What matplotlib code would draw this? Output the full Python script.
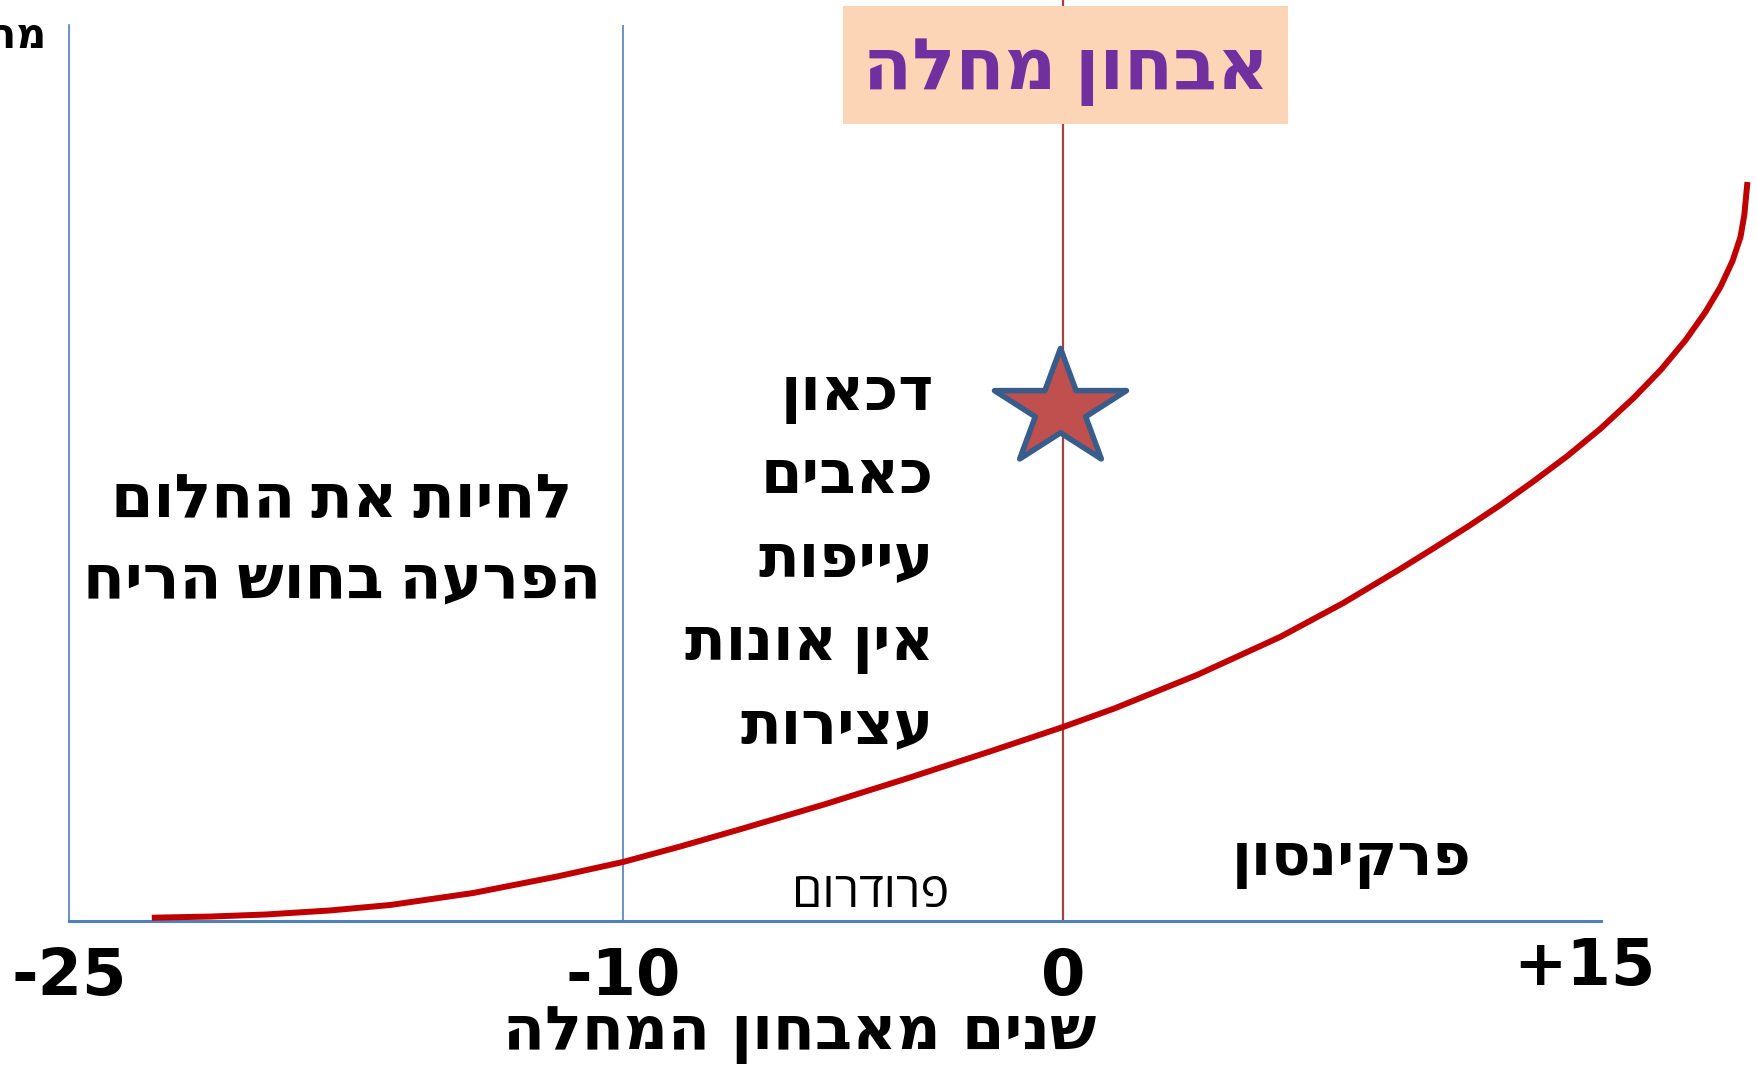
import numpy as np
import matplotlib
matplotlib.use("Agg")
import matplotlib.pyplot as plt
from matplotlib.patches import Rectangle
from matplotlib.path import Path
from matplotlib.transforms import ScaledTranslation

plt.rcParams['font.family'] = ['Open Sans', 'DejaVu Sans']

# ---------------- data ----------------
tick_years = [-25, -10, 0, 15]
tick_labels = ["-25", "-10", "0", "+15"]

curve_years = [-22.77, -21.19, -19.68, -17.94, -16.31, -14.06, -11.81, -10.0, -8.70, -7.32,
               -5.43, -3.55, -1.66, 0.0, 1.48, 3.86, 6.25, 8.07, 9.71, 10.66,
               11.64, 12.59, 13.54, 14.52, 15.48, 16.43, 17.21, 17.93, 18.50, 18.93,
               19.28, 19.51, 19.62, 19.71]
curve_values = [0.31, 0.44, 0.67, 1.12, 1.73, 3.07, 4.89, 6.53, 8.26, 10.21,
                12.95, 15.85, 18.87, 21.60, 23.67, 27.41, 31.65, 35.44, 39.24, 41.53,
                43.93, 46.38, 49.01, 51.85, 54.92, 58.33, 61.45, 64.80, 67.93, 70.72,
                73.62, 76.30, 78.76, 82.44]

star_year = -0.07
star_value = 57.1

title_box = "אבחון מחלה"
left_lines = ["לחיות את החלום", "הפרעה בחוש הריח"]
mid_lines = ["דכאון", "כאבים", "עייפות", "אין אונות", "עצירות"]
prodrome = "פרודרום"
parkinson = "פרקינסון"
xlabel = "שנים מאבחון המחלה"
ylabel = "מהלך המחלה"


def vis(s):
    # Hebrew is right-to-left; matplotlib has no bidi, so reverse to visual order
    return s[::-1]


# ---------------- scale (schematic, non-uniform tick spacing) ----------------
W, H = 1758, 1068
anchor_pos = [69.5, 623, 1063, 1584]
ext_years = [-200] + tick_years + [200]
ext_pos = ([anchor_pos[0] - 175 * 36.9] + anchor_pos + [anchor_pos[-1] + 185 * 34.7])


def fwd(x):
    return np.interp(x, ext_years, ext_pos)


def inv(p):
    return np.interp(p, ext_pos, ext_years)


fig = plt.figure(figsize=(W / 100, H / 100), dpi=100)
ax_left, ax_right = 69.5 / W, 1601 / W
ax_bottom, ax_top = 1 - 920.5 / H, 1 - 24.7 / H
ax = fig.add_axes([ax_left, ax_bottom, ax_right - ax_left, ax_top - ax_bottom])
ax.set_xscale('function', functions=(fwd, inv))
ax.set_xlim(-25, float(inv(1601)))
ax.set_ylim(0, 100)

blue = '#4F81BD'
for s in ['top', 'right']:
    ax.spines[s].set_visible(False)
ax.spines['left'].set_color(blue)
ax.spines['left'].set_linewidth(1.2)
ax.spines['bottom'].set_color(blue)
ax.spines['bottom'].set_linewidth(2.2)
ax.set_yticks([])

ax.set_xticks(tick_years)
ax.set_xticklabels(tick_labels, fontsize=46, fontweight='bold', family=['DejaVu Sans'])
ax.tick_params(axis='x', length=0, pad=18)
ax.xaxis.set_minor_locator(matplotlib.ticker.NullLocator())
last = ax.get_xticklabels()[-1]
last.set_transform(last.get_transform() + ScaledTranslation(0, 0.09, fig.dpi_scale_trans))

# vertical reference lines
ax.axvline(-10, color=blue, lw=1.2, zorder=1)
ax.plot([0, 0], [0, 1.3], transform=ax.get_xaxis_transform(), color='#A5413F',
        lw=1.6, clip_on=False, zorder=1)

# disease curve
ax.plot(curve_years, curve_values, color='#C00000', lw=4.3, clip_on=False,
        solid_capstyle='butt', solid_joinstyle='round', zorder=3)

# star (slightly flattened five-point star, like the slide shape)
ang_out = np.deg2rad(90 + 72 * np.arange(5))
ang_in = ang_out + np.deg2rad(36)
verts = []
for a, b in zip(ang_out, ang_in):
    verts.append((np.cos(a), 0.88 * np.sin(a)))
    verts.append((0.382 * np.cos(b), 0.88 * 0.382 * np.sin(b)))
verts.append(verts[0])
codes = [Path.MOVETO] + [Path.LINETO] * 9 + [Path.CLOSEPOLY]
star_path = Path(verts, codes)
ax.plot([star_year], [star_value], marker=star_path, markersize=95,
        markerfacecolor='#C0504D', markeredgecolor='#385D8A', markeredgewidth=4,
        clip_on=False, zorder=4)

# title box
fig.patches.append(Rectangle((843 / W, 1 - 124 / H), (1288 - 843) / W, (124 - 6) / H,
                             transform=fig.transFigure, facecolor='#FBD5B5',
                             edgecolor='none', zorder=5))
fig.text(1066 / W, 1 - 70 / H, vis(title_box), ha='center', va='center',
         fontsize=51.5, fontweight='bold', color='#7030A0', zorder=6)

# text blocks
for i, line in enumerate(left_lines):
    fig.text(342 / W, 1 - (501 + i * 81) / H, vis(line), ha='center', va='center',
             fontsize=44, fontweight='bold', color='black')

for i, line in enumerate(mid_lines):
    fig.text(934 / W, 1 - (394 + i * 83.5) / H, vis(line), ha='right', va='center',
             fontsize=43, fontweight='bold', color='black')

fig.text(871 / W, 1 - 894 / H, vis(prodrome), ha='center', va='center',
         fontsize=35, color='black')
fig.text(1352 / W, 1 - 860 / H, vis(parkinson), ha='center', va='center',
         fontsize=42, fontweight='bold', color='black')

fig.text(800 / W, 1 - 1034 / H, vis(xlabel), ha='center', va='center',
         fontsize=44, fontweight='bold', family=['DejaVu Sans'], color='black')

fig.text(46 / W, 1 - 37 / H, vis(ylabel), ha='right', va='center',
         fontsize=30, fontweight='bold', color='black')

fig.savefig('out.png', dpi=100)
